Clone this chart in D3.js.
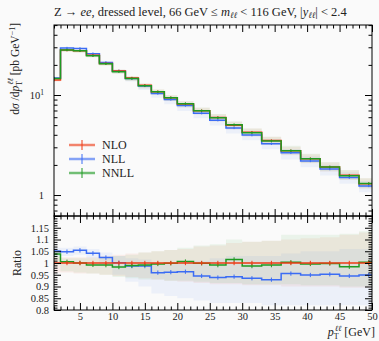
<!DOCTYPE html>
<html>
<head>
<meta charset="utf-8">
<script src="https://cdn.jsdelivr.net/npm/d3@7"></script>
<style>
  body { margin: 0; background: #fafafa; }
  svg { display: block; font-family: "Liberation Serif", "DejaVu Serif", serif; }
</style>
</head>
<body>
<div id="chart"></div>
<script>
// bin edges of pT(ll) in GeV
var edges = [0, 2, 4, 6, 8, 10, 12, 14, 16, 18, 20, 22.5, 25, 27.5, 30, 33, 36, 39, 42, 45, 48, 51];

// NLO cross section, pb/GeV
var nlo = [14.1, 28.1, 27.7, 24.9, 20.7, 17.4, 14.8, 12.5, 10.8, 9.4, 8.15, 6.97, 5.97, 4.98, 4.25, 3.5, 2.77, 2.31, 1.91, 1.58, 1.30];

// ratios to NLO
var ratioNll  = [1.051, 1.048, 1.054, 1.041, 1.023, 1.001, 0.987, 0.987, 0.959, 0.961, 0.963, 0.945, 0.938, 0.942, 0.935, 0.929, 0.955, 0.949, 0.952, 0.945, 0.949];
var ratioNnll = [1.038, 1.005, 1.000, 0.992, 0.991, 0.983, 0.989, 0.992, 0.996, 0.999, 1.006, 0.999, 0.991, 1.015, 0.987, 0.991, 1.003, 0.996, 0.998, 0.984, 1.003];

// uncertainty bands, relative to NLO
var nloUp    = [1.025, 1.025, 1.025, 1.025, 1.03, 1.035, 1.04, 1.045, 1.05, 1.055, 1.06, 1.07, 1.075, 1.085, 1.09, 1.095, 1.10, 1.105, 1.11, 1.12, 1.13];
var nloDown  = [0.96, 0.96, 0.955, 0.955, 0.95, 0.945, 0.94, 0.935, 0.93, 0.925, 0.92, 0.915, 0.91, 0.91, 0.905, 0.905, 0.90, 0.90, 0.90, 0.895, 0.895];
var nnllUp   = [1.05, 1.02, 1.02, 1.02, 1.025, 1.03, 1.035, 1.045, 1.05, 1.055, 1.065, 1.075, 1.08, 1.10, 1.09, 1.095, 1.12, 1.12, 1.12, 1.125, 1.135];
var nnllDown = [0.99, 0.965, 0.96, 0.955, 0.95, 0.94, 0.935, 0.93, 0.93, 0.925, 0.925, 0.92, 0.915, 0.915, 0.91, 0.91, 0.91, 0.905, 0.905, 0.90, 0.90];
var nllUp    = [1.065, 1.065, 1.07, 1.06, 1.045, 1.03, 1.02, 1.015, 1.0, 1.0, 1.0, 1.01, 1.02, 1.03, 1.03, 1.03, 1.04, 1.05, 1.05, 1.06, 1.06];
var nllDown  = [1.03, 1.03, 1.035, 1.02, 0.99, 0.95, 0.92, 0.90, 0.87, 0.86, 0.85, 0.84, 0.83, 0.83, 0.83, 0.82, 0.82, 0.82, 0.82, 0.82, 0.82];

var statRel = 0.005;

var xTicks = [5, 10, 15, 20, 25, 30, 35, 40, 45, 50];
var ratioTicks = [0.8, 0.85, 0.9, 0.95, 1, 1.05, 1.1, 1.15];
var ratioLabels = ["0.8", "0.85", "0.9", "0.95", "1", "1.05", "1.1", "1.15"];

var colNlo = "#ee3a14", colNll = "#3b6cf4", colNnll = "#1e9a22";
var textCol = "#222";

var W = 379, H = 341;
var pLeft = 54, pRight = 372, pTop = 25, pMid = 216, pBot = 310;

var svg = d3.select("#chart").append("svg")
    .attr("width", W)
    .attr("height", H);

var x = d3.scaleLinear().domain([1, 50]).range([pLeft, pRight]);
var y = d3.scaleLog().domain([0.617, 50.1]).range([pMid, pTop]);
var yr = d3.scaleLinear().domain([0.8, 1.2]).range([pBot, pMid]);

// clip paths for panels
var defs = svg.append("defs");
defs.append("clipPath").attr("id", "clipMain").append("rect")
    .attr("x", pLeft).attr("y", pTop).attr("width", pRight - pLeft).attr("height", pMid - pTop);
defs.append("clipPath").attr("id", "clipRatio").append("rect")
    .attr("x", pLeft).attr("y", pMid).attr("width", pRight - pLeft).attr("height", pBot - pMid);

// data per bin
var bins = nlo.map(function (v, i) {
    return {
        lo: edges[i], hi: edges[i + 1], c: (edges[i] + edges[i + 1]) / 2,
        nlo: v, nll: v * ratioNll[i], nnll: v * ratioNnll[i],
        rNlo: 1, rNll: ratioNll[i], rNnll: ratioNnll[i],
        nloUp: nloUp[i], nloDown: nloDown[i],
        nllUp: nllUp[i], nllDown: nllDown[i],
        nnllUp: nnllUp[i], nnllDown: nnllDown[i]
    };
});
// extra point so step curves reach last edge
function stepPts(acc) {
    var pts = bins.map(function (b) { return [b.lo, acc(b)]; });
    var last = bins[bins.length - 1];
    pts.push([last.hi, acc(last)]);
    return pts;
}

function drawBand(g, ys, up, down, color, op) {
    var pu = stepPts(up), pd = stepPts(down);
    var area = d3.area()
        .x(function (d, i) { return x(pu[i][0]); })
        .y0(function (d, i) { return ys(pd[i][1]); })
        .y1(function (d, i) { return ys(pu[i][1]); })
        .curve(d3.curveStepAfter);
    g.append("path").datum(pu).attr("d", area)
        .attr("fill", color).attr("fill-opacity", op).attr("stroke", "none");
}

function drawStep(g, ys, acc, color, w) {
    var line = d3.line()
        .x(function (d) { return x(d[0]); })
        .y(function (d) { return ys(d[1]); })
        .curve(d3.curveStepAfter);
    g.append("path").datum(stepPts(acc)).attr("d", line)
        .attr("fill", "none").attr("stroke", color).attr("stroke-width", w);
    // small stat error bars at bin centres
    g.selectAll(null).data(bins).enter().append("line")
        .attr("x1", function (d) { return x(d.c); })
        .attr("x2", function (d) { return x(d.c); })
        .attr("y1", function (d) { return ys(acc(d) * (1 + statRel)) - 1; })
        .attr("y2", function (d) { return ys(acc(d) * (1 - statRel)) + 1; })
        .attr("stroke", color).attr("stroke-width", 1);
}

// ---- main panel
var gMain = svg.append("g").attr("clip-path", "url(#clipMain)");
drawBand(gMain, y, function (b) { return b.nlo * b.nloUp; }, function (b) { return b.nlo * b.nloDown; }, colNlo, 0.07);
drawBand(gMain, y, function (b) { return b.nlo * b.nllUp; }, function (b) { return b.nlo * b.nllDown; }, colNll, 0.07);
drawBand(gMain, y, function (b) { return b.nlo * b.nnllUp; }, function (b) { return b.nlo * b.nnllDown; }, colNnll, 0.07);
drawStep(gMain, y, function (b) { return b.nll; }, colNll, 1.5);
drawStep(gMain, y, function (b) { return b.nlo; }, colNlo, 1.5);
drawStep(gMain, y, function (b) { return b.nnll; }, colNnll, 1.5);

// ---- ratio panel
var gRat = svg.append("g").attr("clip-path", "url(#clipRatio)");
drawBand(gRat, yr, function (b) { return b.nloUp; }, function (b) { return b.nloDown; }, colNlo, 0.07);
drawBand(gRat, yr, function (b) { return b.nllUp; }, function (b) { return b.nllDown; }, colNll, 0.07);
drawBand(gRat, yr, function (b) { return b.nnllUp; }, function (b) { return b.nnllDown; }, colNnll, 0.07);
drawStep(gRat, yr, function (b) { return b.rNll; }, colNll, 1.5);
drawStep(gRat, yr, function (b) { return b.rNnll; }, colNnll, 1.5);
drawStep(gRat, yr, function (b) { return b.rNlo; }, colNlo, 1.5);

// ---- axes (inward ticks, mirrored)
var xMinor = d3.range(1, 51).filter(function (v) { return v % 5 !== 0; });
function xAxes(yPos, isTop, labels) {
    var mk = isTop ? d3.axisTop : d3.axisBottom;
    var maj = svg.append("g").attr("transform", "translate(0," + yPos + ")")
        .call(mk(x).tickValues(xTicks).tickSize(-7).tickPadding(3)
            .tickFormat(labels ? d3.format("d") : ""));
    var mino = svg.append("g").attr("transform", "translate(0," + yPos + ")")
        .call(mk(x).tickValues(xMinor).tickSize(-3.5).tickFormat(""));
    [maj, mino].forEach(function (g) { g.select(".domain").remove(); });
    return maj;
}
xAxes(pTop, true, false);
xAxes(pMid, false, false);
xAxes(pMid, true, false);
xAxes(pBot, false, true);

var yMajor = [1, 10];
var yMinor = [0.7, 0.8, 0.9, 2, 3, 4, 5, 6, 7, 8, 9, 20, 30, 40, 50];
[[d3.axisLeft, pLeft], [d3.axisRight, pRight]].forEach(function (a) {
    var g1 = svg.append("g").attr("transform", "translate(" + a[1] + ",0)")
        .call(a[0](y).tickValues(yMajor).tickSize(-7).tickFormat(""));
    var g2 = svg.append("g").attr("transform", "translate(" + a[1] + ",0)")
        .call(a[0](y).tickValues(yMinor).tickSize(-3.5).tickFormat(""));
    g1.select(".domain").remove();
    g2.select(".domain").remove();
});

var rMinor = d3.range(80, 120).map(function (v) { return v / 100; })
    .filter(function (v) { return Math.round(v * 100) % 5 !== 0; });
[[d3.axisLeft, pLeft], [d3.axisRight, pRight]].forEach(function (a, k) {
    var g1 = svg.append("g").attr("transform", "translate(" + a[1] + ",0)")
        .call(a[0](yr).tickValues(ratioTicks.concat([1.2])).tickSize(-7).tickPadding(5)
            .tickFormat(function (d, i) { return k === 0 && i < ratioLabels.length ? ratioLabels[i] : ""; }));
    var g2 = svg.append("g").attr("transform", "translate(" + a[1] + ",0)")
        .call(a[0](yr).tickValues(rMinor).tickSize(-3.5).tickFormat(""));
    g1.select(".domain").remove();
    g2.select(".domain").remove();
});

svg.selectAll(".tick line").attr("stroke", "#000");
svg.selectAll(".tick text").attr("font-size", 10.5).attr("fill", textCol)
    .attr("font-family", "'Liberation Serif', serif");

// main y tick labels
svg.append("text").attr("x", pLeft - 10).attr("y", y(1) + 4)
    .attr("text-anchor", "end").attr("font-size", 10.5).attr("fill", textCol).text("1");
var t10 = svg.append("text").attr("x", pLeft - 10).attr("y", y(10) + 4)
    .attr("text-anchor", "end").attr("font-size", 10.5).attr("fill", textCol);
t10.append("tspan").text("10");
t10.append("tspan").attr("dy", -4).attr("font-size", 7.5).text("1");

// frames
svg.append("rect").attr("x", pLeft).attr("y", pTop).attr("width", pRight - pLeft).attr("height", pMid - pTop)
    .attr("fill", "none").attr("stroke", "#000").attr("stroke-width", 1);
svg.append("rect").attr("x", pLeft).attr("y", pMid).attr("width", pRight - pLeft).attr("height", pBot - pMid)
    .attr("fill", "none").attr("stroke", "#000").attr("stroke-width", 1);

// title
var title = svg.append("text").attr("x", pLeft).attr("y", 16).attr("font-size", 12.5).attr("fill", textCol);
title.append("tspan").text("Z → ");
title.append("tspan").attr("font-style", "italic").text("ee");
title.append("tspan").text(", dressed level, 66 GeV ≤ ");
title.append("tspan").attr("font-style", "italic").text("m");
title.append("tspan").attr("font-style", "italic").attr("font-size", 8.5).attr("dy", 2).text("ℓℓ");
title.append("tspan").attr("dy", -2).text(" < 116 GeV, |");
title.append("tspan").attr("font-style", "italic").text("y");
title.append("tspan").attr("font-style", "italic").attr("font-size", 8.5).attr("dy", 2).text("ℓℓ");
title.append("tspan").attr("dy", -2).text("| < 2.4");

// y label main (top aligned)
var yl = svg.append("text").attr("transform", "translate(19,23) rotate(-90)")
    .attr("text-anchor", "end").attr("font-size", 11.5).attr("fill", textCol);
yl.append("tspan").text("d");
yl.append("tspan").attr("font-style", "italic").text("σ");
yl.append("tspan").text(" /d");
yl.append("tspan").attr("font-style", "italic").text("p");
yl.append("tspan").attr("font-size", 8).attr("dy", 3).text("T");
yl.append("tspan").attr("font-size", 8).attr("font-style", "italic").attr("dy", -9).attr("dx", -4).text("ℓℓ");
yl.append("tspan").attr("dy", 6).text(" [pb GeV");
yl.append("tspan").attr("font-size", 8).attr("dy", -4).text("−1");
yl.append("tspan").attr("dy", 4).text("]");

svg.append("text").attr("transform", "translate(21," + yr(1) + ") rotate(-90)")
    .attr("text-anchor", "middle").attr("font-size", 12).attr("fill", textCol).text("Ratio");

// x label
var xlab = svg.append("text").attr("x", 375).attr("y", 336)
    .attr("text-anchor", "end").attr("font-size", 12).attr("fill", textCol);
xlab.append("tspan").attr("font-style", "italic").text("p");
xlab.append("tspan").attr("font-size", 8).attr("dy", 3).text("T");
xlab.append("tspan").attr("font-size", 8).attr("font-style", "italic").attr("dy", -8).attr("dx", -4).text("ℓℓ");
xlab.append("tspan").attr("dy", 5).text(" [GeV]");

// legend
var legNames = ["NLO", "NLL", "NNLL"];
var legColors = [colNlo, colNll, colNnll];
var leg = svg.append("g").selectAll("g").data(legNames).enter().append("g")
    .attr("transform", function (d, i) { return "translate(69," + (145 + i * 14) + ")"; });
leg.append("rect").attr("x", 0).attr("y", -2).attr("width", 26).attr("height", 4)
    .attr("fill", function (d, i) { return legColors[i]; }).attr("fill-opacity", 0.15);
leg.append("line").attr("x1", 0).attr("x2", 26).attr("y1", 0).attr("y2", 0)
    .attr("stroke", function (d, i) { return legColors[i]; }).attr("stroke-width", 1.1);
leg.append("line").attr("x1", 13).attr("x2", 13).attr("y1", -5).attr("y2", 5)
    .attr("stroke", function (d, i) { return legColors[i]; }).attr("stroke-width", 1);
leg.append("text").attr("x", 33).attr("y", 4).attr("font-size", 12).attr("fill", textCol)
    .text(function (d) { return d; });
</script>
</body>
</html>
